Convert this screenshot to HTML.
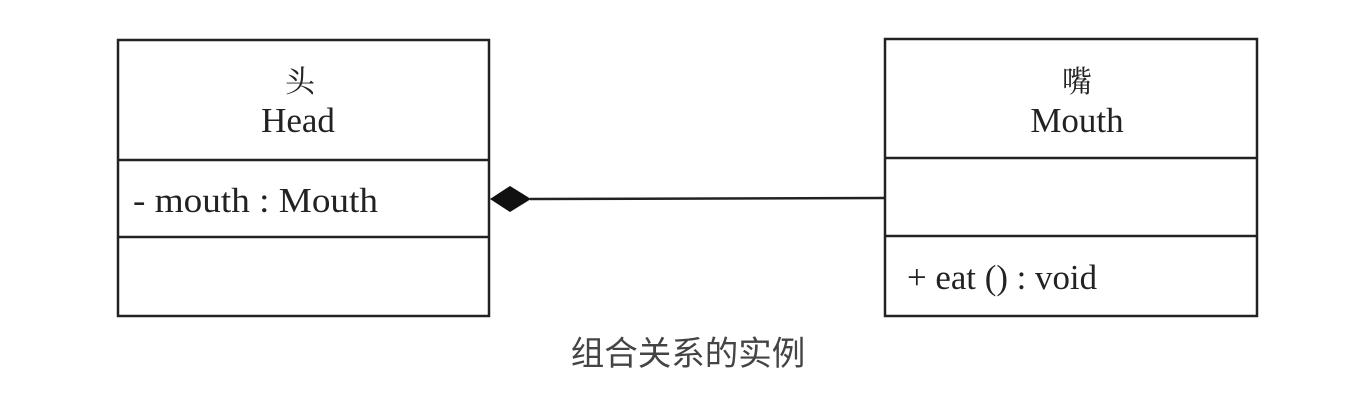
<!DOCTYPE html>
<html><head><meta charset="utf-8"><style>
body{margin:0;background:#fff;}
</style></head><body>
<svg width="1348" height="414" xmlns="http://www.w3.org/2000/svg">
<rect width="1348" height="414" fill="#fff"/>
<g fill="none" stroke="#222" stroke-width="2.5">
<rect x="118" y="40" width="371" height="276"/>
<line x1="118" y1="160" x2="489" y2="160"/>
<line x1="118" y1="237" x2="489" y2="237"/>
<rect x="885" y="39" width="372" height="277"/>
<line x1="885" y1="158" x2="1257" y2="158"/>
<line x1="885" y1="236" x2="1257" y2="236"/>
<line x1="530" y1="199" x2="885" y2="198"/>
</g>
<polygon points="490,199 510,186 531,199 510,212" fill="#111"/>
<g font-family="'Liberation Serif','Noto Serif CJK SC',serif" fill="#222" text-anchor="middle">
<text x="300" y="92" font-size="30">头</text>
<text x="298" y="132" font-size="35">Head</text>
<text x="1077" y="92" font-size="30">嘴</text>
<text x="1077" y="132" font-size="35">Mouth</text>
</g>
<g font-family="'Liberation Serif',serif" fill="#222" font-size="35">
<text x="133" y="212" textLength="245" lengthAdjust="spacingAndGlyphs">- mouth : Mouth</text>
<text x="907" y="289" textLength="190" lengthAdjust="spacingAndGlyphs">+ eat () : void</text>
</g>
<text x="688" y="365" font-family="'Liberation Sans','Noto Sans CJK SC',sans-serif" font-size="33.5" fill="#444" text-anchor="middle">组合关系的实例</text>
</svg>
</body></html>
